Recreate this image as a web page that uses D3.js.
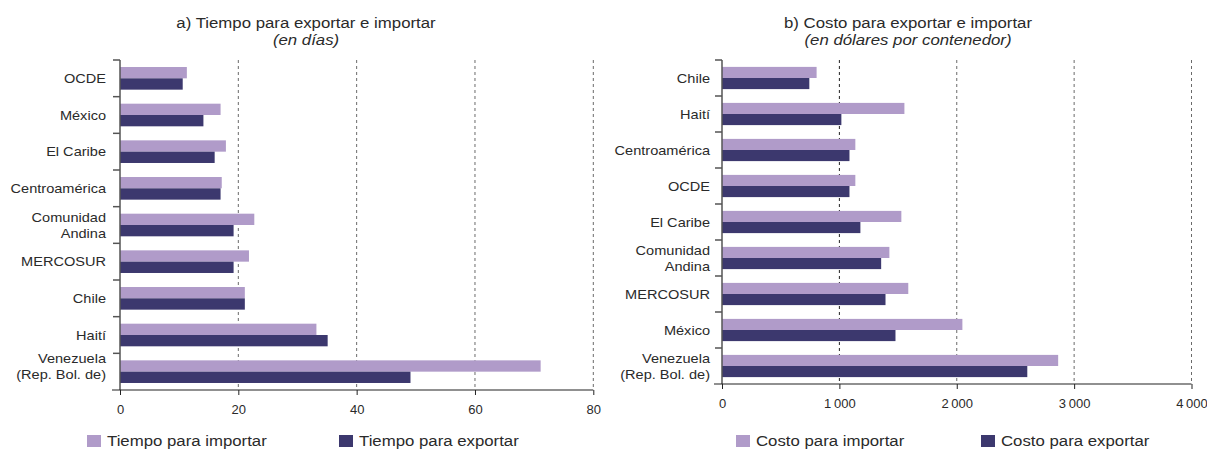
<!DOCTYPE html>
<html>
<head>
<meta charset="utf-8">
<script src="https://cdn.jsdelivr.net/npm/d3@7"></script>
<style>
  html, body { margin: 0; padding: 0; background: #fff; }
  svg { display: block; font-family: "Liberation Sans", Arial, sans-serif; }
</style>
</head>
<body>
<svg id="chart" width="1207" height="449"></svg>
<script>
// ---- Data ----
const timeCategories = ["OCDE", "México", "El Caribe", "Centroamérica", "Comunidad\nAndina", "MERCOSUR", "Chile", "Haití", "Venezuela\n(Rep. Bol. de)"];
const timeImport = [11.3, 17.0, 17.9, 17.2, 22.7, 21.8, 21.1, 33.2, 71.1];
const timeExport = [10.6, 14.1, 16.0, 17.0, 19.2, 19.2, 21.1, 35.1, 49.1];
const timeTicks = [0, 20, 40, 60, 80];

const costCategories = ["Chile", "Haití", "Centroamérica", "OCDE", "El Caribe", "Comunidad\nAndina", "MERCOSUR", "México", "Venezuela\n(Rep. Bol. de)"];
const costImport = [806, 1554, 1136, 1136, 1528, 1426, 1587, 2048, 2864];
const costExport = [744, 1017, 1086, 1086, 1179, 1356, 1393, 1478, 2601];
const costTicks = [0, 1000, 2000, 3000, 4000];

const titles = ["a) Tiempo para exportar e importar", "b) Costo para exportar e importar"];
const subtitles = ["(en días)", "(en dólares por contenedor)"];
const legendTime = ["Tiempo para importar", "Tiempo para exportar"];
const legendCost = ["Costo para importar", "Costo para exportar"];

// ---- Style ----
const COL_IMP = "#b09bc9";
const COL_EXP = "#3c386e";
const TXT = "#2a2a2a";
const SX = 1.12;

const svg = d3.select("#chart");

function txt(g, x, y, str, size, anchor, italic) {
  const lines = str.split("\n");
  const t = g.append("text")
    .attr("transform", `translate(${x},${y}) scale(${SX},1)`)
    .attr("text-anchor", anchor)
    .attr("font-size", size)
    .attr("fill", TXT)
    .attr("font-style", italic ? "italic" : "normal");
  const lh = 16;
  lines.forEach((l, i) => {
    t.append("tspan").attr("x", 0)
      .attr("dy", i === 0 ? (-(lines.length - 1) * lh / 2) + "px" : lh + "px")
      .text(l);
  });
  return t;
}

function panel(cfg) {
  const g = svg.append("g");
  const x = d3.scaleLinear().domain([0, cfg.max]).range([cfg.x0, cfg.x1]);
  const y = d3.scaleBand().domain(cfg.cats).range([cfg.top, cfg.bottom]).padding(0);
  const sub = d3.scaleBand().domain(["imp", "exp"]).range([0, y.bandwidth()]).paddingOuter(0.62).paddingInner(0);

  // titles
  txt(g, cfg.titleX, 28, cfg.title, 15, "middle", false);
  txt(g, cfg.titleX, 45, cfg.subtitle, 15, "middle", true);

  // gridlines
  g.selectAll(".grid").data(cfg.ticks.filter(d => d > 0)).join("line")
    .attr("x1", d => x(d)).attr("x2", d => x(d))
    .attr("y1", cfg.top).attr("y2", cfg.bottom)
    .attr("stroke", d => (cfg.darkGrid && d === cfg.darkGrid) ? "#222" : "#6a6a6a")
    .attr("stroke-width", 1)
    .attr("stroke-dasharray", "3,3");

  // bars
  const rows = cfg.cats.map((c, i) => ({c, imp: cfg.imp[i], exp: cfg.exp[i]}));
  g.selectAll(".bimp").data(rows).join("rect")
    .attr("x", x(0)).attr("y", d => y(d.c) + sub("imp"))
    .attr("width", d => x(d.imp) - x(0)).attr("height", sub.bandwidth())
    .attr("fill", COL_IMP);
  g.selectAll(".bexp").data(rows).join("rect")
    .attr("x", x(0)).attr("y", d => y(d.c) + sub("exp"))
    .attr("width", d => x(d.exp) - x(0)).attr("height", sub.bandwidth())
    .attr("fill", COL_EXP);

  // y axis line and boundary ticks
  g.append("line").attr("x1", x(0)).attr("x2", x(0))
    .attr("y1", cfg.top).attr("y2", cfg.bottom)
    .attr("stroke", "#555").attr("stroke-width", 1.5);
  g.selectAll(".ytick").data(cfg.cats).join("line")
    .attr("x1", x(0) - 7).attr("x2", x(0))
    .attr("y1", d => y(d)).attr("y2", d => y(d))
    .attr("stroke", "#555").attr("stroke-width", 1.5);

  // category labels
  cfg.cats.forEach((c, i) => {
    const shift = (cfg.lastShift && i === cfg.cats.length - 1) ? cfg.lastShift : 0;
    txt(g, x(0) - cfg.labelGap, y(c) + y.bandwidth() / 2 + 4.5 + shift, c, 13, "end", false);
  });

  // x axis
  const ax = g.append("g").attr("transform", `translate(0,${cfg.bottom})`)
    .call(d3.axisBottom(x).tickValues(cfg.ticks).tickSize(5).tickPadding(10)
      .tickFormat(cfg.fmt));
  ax.select(".domain").remove();
  ax.selectAll(".tick line").attr("stroke", "#222");
  ax.selectAll(".tick text")
    .attr("font-size", 13).attr("fill", TXT)
    .attr("font-family", "Liberation Sans, Arial, sans-serif");
  g.append("line").attr("x1", x(0) - 8).attr("x2", x(cfg.max))
    .attr("y1", cfg.bottom).attr("y2", cfg.bottom)
    .attr("stroke", "#222").attr("stroke-width", 1.2);

  // legend
  const lg = cfg.legend;
  [[COL_IMP, lg.labels[0], lg.x[0]], [COL_EXP, lg.labels[1], lg.x[1]]].forEach(([col, lab, lx]) => {
    g.append("rect").attr("x", lx).attr("y", 435).attr("width", 14).attr("height", 12).attr("fill", col);
    txt(g, lx + 20, 446, lab, 15, "start", false);
  });
}

const spaceFmt = d => d3.format(",")(d).replace(/,/g, "\u2009");

panel({
  cats: timeCategories, imp: timeImport, exp: timeExport, ticks: timeTicks,
  max: 80, x0: 120, x1: 593.3, top: 60, bottom: 390,
  titleX: 306, title: titles[0], subtitle: subtitles[0], labelGap: 14,
  fmt: d3.format("d"), lastShift: -5,
  legend: {labels: legendTime, x: [87, 339]}
});

panel({
  cats: costCategories, imp: costImport, exp: costExport, ticks: costTicks,
  max: 4000, x0: 722, x1: 1191.5, top: 60, bottom: 384,
  titleX: 908, title: titles[1], subtitle: subtitles[1], labelGap: 12,
  fmt: spaceFmt, darkGrid: 1000,
  legend: {labels: legendCost, x: [736, 981]}
});
</script>
</body>
</html>
